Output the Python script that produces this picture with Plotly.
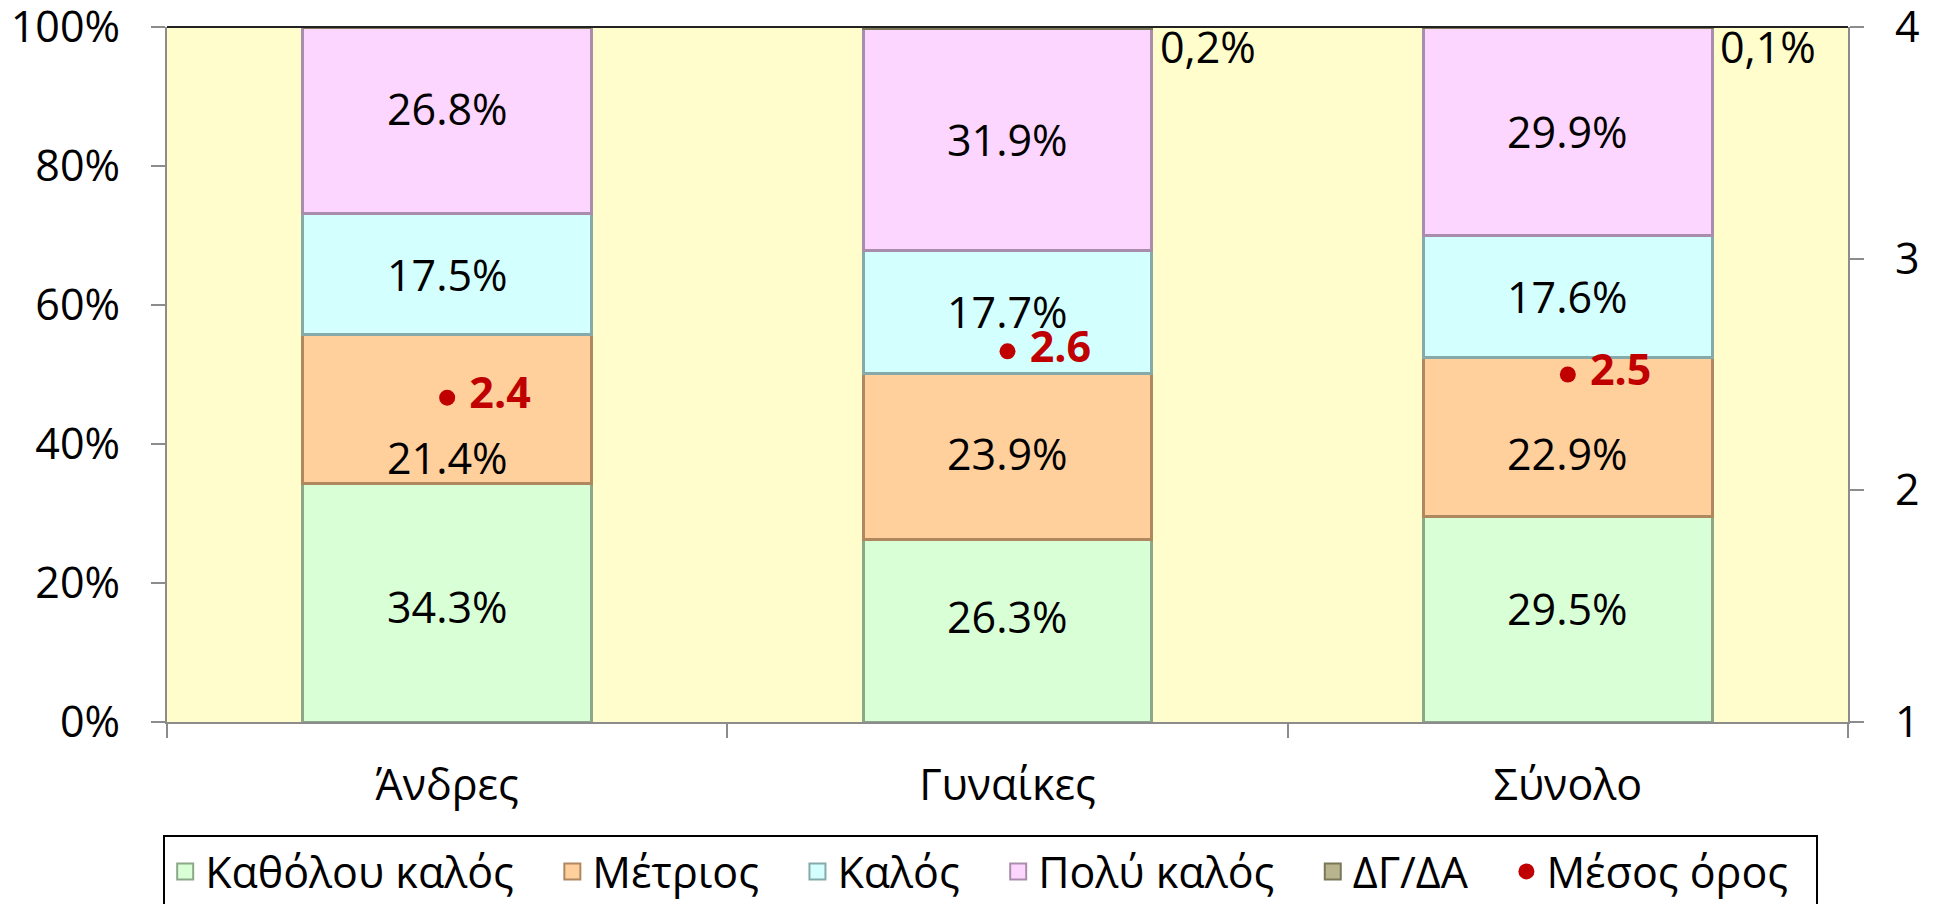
import plotly.graph_objects as go

categories = ["Άνδρες", "Γυναίκες", "Σύνολο"]
kathe = [34.3, 26.3, 29.5]
metrios = [21.4, 23.9, 22.9]
kalos = [17.5, 17.7, 17.6]
poly = [26.8, 31.9, 29.9]
dgda = [0.0, 0.2, 0.1]
mean = [2.4, 2.6, 2.5]
series_names = ["Καθόλου καλός", "Μέτριος", "Καλός", "Πολύ καλός", "ΔΓ/ΔΑ"]
mean_name = "Μέσος όρος"
pct_ticks = [0, 20, 40, 60, 80, 100]
mean_ticks = [1, 2, 3, 4]

# label placement tweaks (pixels, + = up), per labelled series x category
label_yshift_px = [
    [-4, 14, 11],
    [-48, 3, -16],
    [0, 0, 0],
    [12, 0, 0],
]

FONT = "Open Sans"
FS = 43
fills = ["#D9FFD6", "#FFCF9C", "#D4FFFF", "#FCD6FE", "#B8B48E"]
edges = ["#8CA889", "#B08860", "#86AAAA", "#A98DAC", "#7A7658"]
RED = "#C00000"
BAR_W = 0.515
NB = "\u00a0"

fig = go.Figure()
series_vals = [kathe, metrios, kalos, poly, dgda]
for i, (name, vals) in enumerate(zip(series_names, series_vals)):
    fig.add_trace(go.Bar(
        x=categories, y=vals, name=name, width=BAR_W,
        marker=dict(color=fills[i], line=dict(color=edges[i], width=3)),
        textposition="none", showlegend=False, hoverinfo="skip",
    ))

# segment value labels, centred in each segment
base = [0.0] * len(categories)
for s, vals in enumerate(series_vals[:4]):
    for j, (c, v) in enumerate(zip(categories, vals)):
        fig.add_annotation(
            x=c, y=base[j] + v / 2, xref="x", yref="y",
            text=f"{v:.1f}%", showarrow=False,
            xanchor="center", yanchor="middle", yshift=label_yshift_px[s][j],
            font=dict(family=FONT, size=FS, color="black"),
        )
        base[j] += v

fig.add_trace(go.Scatter(
    x=categories, y=mean, yaxis="y2", mode="markers+text", name=mean_name,
    marker=dict(size=16, color=RED),
    texttemplate=NB + "%{y:.1f}", textposition="middle right",
    textfont=dict(family=FONT, size=FS, color=RED, weight="bold"),
    showlegend=False, cliponaxis=False, hoverinfo="skip",
))

# legend entries
for i, name in enumerate(series_names):
    fig.add_trace(go.Scatter(
        x=[None], y=[None], mode="markers", name=name + NB * 3,
        marker=dict(symbol="square", size=16, color=fills[i],
                    line=dict(color=edges[i], width=2)),
    ))
fig.add_trace(go.Scatter(
    x=[None], y=[None], mode="markers", name=mean_name + NB * 2,
    marker=dict(symbol="circle", size=16, color=RED),
))

# ΔΓ/ΔΑ labels to the right of the bars
for i, (c, v) in enumerate(zip(categories, dgda)):
    if v > 0:
        fig.add_annotation(
            x=i + BAR_W / 2, y=100, xref="x", yref="y",
            text=f"{v:.1f}".replace(".", ",") + "%",
            showarrow=False, xanchor="left", yanchor="top",
            xshift=6, yshift=12,
            font=dict(family=FONT, size=FS, color="black"),
        )

fig.add_shape(type="line", xref="paper", yref="paper", x0=0, x1=1, y0=1, y1=1,
              line=dict(color="#222222", width=2))

axis_common = dict(showline=True, linecolor="#8C8C8C", linewidth=2,
                   ticks="outside", ticklen=14, tickcolor="#8C8C8C", tickwidth=2,
                   showgrid=False, zeroline=False,
                   tickfont=dict(family=FONT, size=FS, color="black"))

fig.update_layout(
    width=1928, height=896,
    margin=dict(l=159, r=88, t=19, b=182, autoexpand=False),
    paper_bgcolor="white", plot_bgcolor="#FFFDCB",
    barmode="stack",
    font=dict(family=FONT, size=FS, color="black"),
    xaxis=dict(type="category", range=[-0.5, 2.5], tickson="boundaries",
               ticklabelstandoff=24, **axis_common),
    yaxis=dict(range=[0, 100], tickvals=pct_ticks,
               ticktext=[f"{v}%" + NB * 2 for v in pct_ticks],
               ticklabeloverflow="allow", **axis_common),
    yaxis2=dict(range=[1, 4], tickvals=mean_ticks,
                ticktext=[NB * 2 + str(v) for v in mean_ticks],
                ticklabeloverflow="allow",
                overlaying="y", side="right", **axis_common),
    legend=dict(orientation="h", x=0.49, xanchor="center",
                yref="container", y=0.077, yanchor="top",
                bordercolor="black", borderwidth=2, bgcolor="white",
                font=dict(family=FONT, size=43, color="black"),
                itemsizing="trace", traceorder="normal"),
    showlegend=True,
)

fig.write_html("out.html")
